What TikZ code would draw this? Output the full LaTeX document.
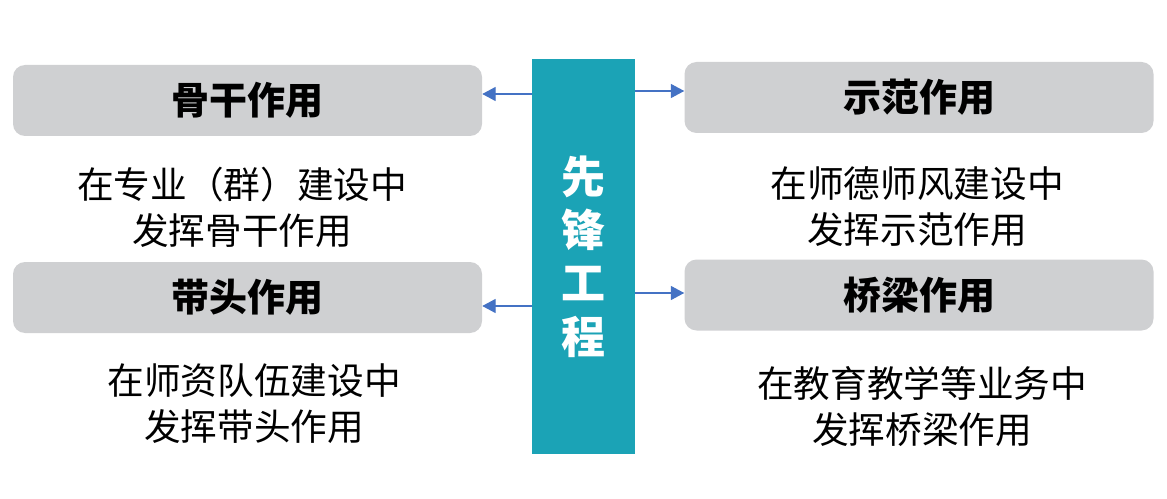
\documentclass[tikz,border=0pt]{standalone}
\usepackage{fontspec}
\newfontfamily\cjk{Noto Sans CJK SC}
\usepackage{tikz}
\usetikzlibrary{arrows.meta,positioning}
\usepackage{xcolor}
\definecolor{pteal}{HTML}{1BA3B6}
\definecolor{pgray}{HTML}{CFD0D2}
\definecolor{parrow}{HTML}{4472C4}

\begin{document}
\begin{tikzpicture}[x=0.75pt,y=-0.75pt,font=\cjk,
  pillar/.style={fill=pteal,text=white,align=center,minimum width=77.25pt,minimum height=296.25pt,
    font=\cjk\bfseries\fontsize{33}{40}\selectfont},
  rolebox/.style={fill=pgray,rounded corners=9pt,minimum width=351.75pt,minimum height=53.25pt,
    font=\cjk\bfseries\fontsize{28.5}{32}\selectfont},
  roletext/.style={align=center,font=\cjk\fontsize{27.5}{34}\selectfont},
  link/.style={parrow,line width=0.9pt,-{Triangle[length=10pt,width=10.5pt]}}]
\useasboundingbox (0,0) rectangle (1167,499);
% the centre bar
\node[pillar] (bar) at (583.5,256.5) {先\\锋\\工\\程};
% the four roles
\node[rolebox] (gugan) at (247.5,100.5) {骨干作用};
\node[rolebox] (shifan) at (919,97.5) {示范作用};
\node[rolebox] (daitou) at (247.5,297.5) {带头作用};
\node[rolebox] (qiaoliang) at (919,295) {桥梁作用};
% what each role means
\node[roletext] (gugan-d) at (242,207.5) {在专业（群）建设中\\发挥骨干作用};
\node[roletext] (shifan-d) at (917,206.5) {在师德师风建设中\\发挥示范作用};
\node[roletext] (daitou-d) at (254,403.5) {在师资队伍建设中\\发挥带头作用};
\node[roletext] (qiaoliang-d) at (922,406.5) {在教育教学等业务中\\发挥桥梁作用};
% arrows out of the bar
\coordinate (lt) at (532,94);
\coordinate (rt) at (635,91);
\coordinate (lb) at (532,306);
\coordinate (rb) at (635,293);
\draw[link] (lt) -- (lt -| gugan.east);
\draw[link] (rt) -- (rt -| shifan.west);
\draw[link] (lb) -- (lb -| daitou.east);
\draw[link] (rb) -- (rb -| qiaoliang.west);
\end{tikzpicture}
\end{document}
